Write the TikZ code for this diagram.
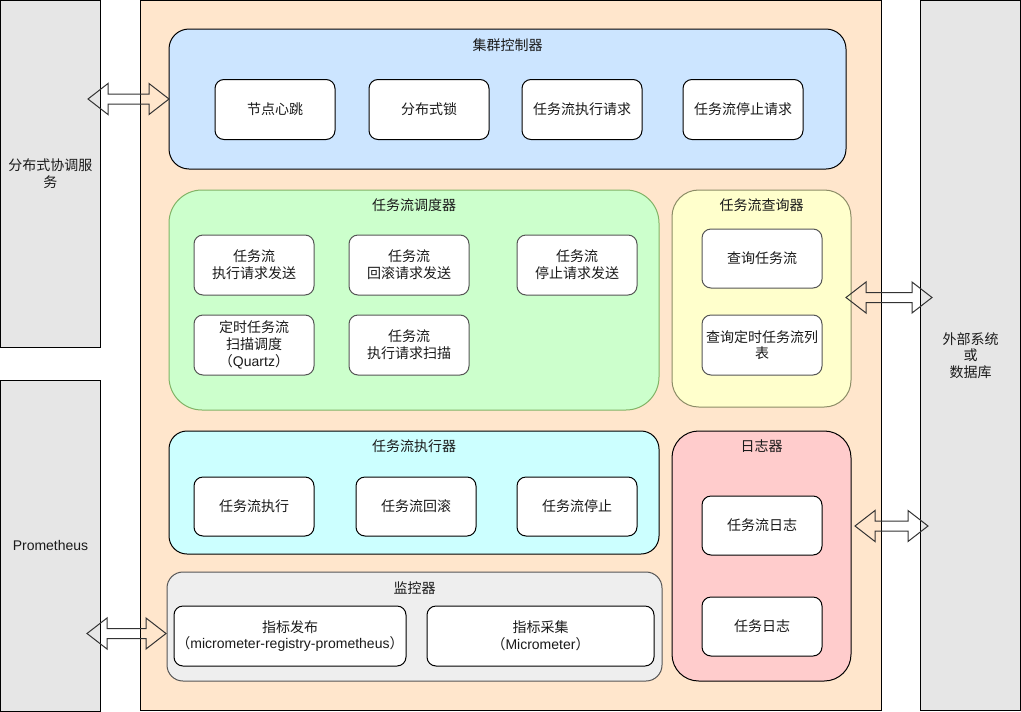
\documentclass[tikz,border=0pt]{standalone}
\usepackage{fontspec}
\setmainfont{Noto Sans CJK SC}
\newfontfamily\lat{Liberation Sans}
\definecolor{panelgray}{HTML}{E6E6E6}
\definecolor{orangebg}{HTML}{FFE6CC}
\definecolor{bluebg}{HTML}{CCE5FF}
\definecolor{greenbg}{HTML}{CCFFCC}
\definecolor{greenline}{HTML}{82B366}
\definecolor{yellowbg}{HTML}{FFFFCC}
\definecolor{yellowline}{HTML}{8C8C66}
\definecolor{cyanbg}{HTML}{CCFFFF}
\definecolor{pinkbg}{HTML}{FFCCCC}
\definecolor{monbg}{HTML}{EEEEEE}
\definecolor{darkline}{HTML}{555555}
\definecolor{txt}{HTML}{1A1A1A}
\newcommand\blockarrow[3]{%
  \draw[barrow] (#1,#3) -- (#1+20,#3-15.5) -- (#1+20,#3-5) -- (#2-20,#3-5) -- (#2-20,#3-15.5) -- (#2,#3)
   -- (#2-20,#3+15.5) -- (#2-20,#3+5) -- (#1+20,#3+5) -- (#1+20,#3+15.5) -- cycle;}
\begin{document}
\begin{tikzpicture}[x=0.75pt,y=-0.75pt,
  every node/.style={font=\fontsize{10.5pt}{12.5pt}\selectfont, align=center, text=txt, inner sep=0pt, outer sep=0pt},
  sz/.style 2 args={minimum width=#1*0.75pt, minimum height=#2*0.75pt},
  panel/.style={draw=black, fill=panelgray, line width=0.75pt},
  cont/.style={draw=black, line width=0.75pt},
  box/.style={draw=black, fill=white, line width=0.75pt, rounded corners=6.75pt, sz={120}{60}},
  gbox/.style={box, draw=darkline},
  title/.style={},
  barrow/.style={draw=black!80, line width=0.75pt, line join=miter}
]
\useasboundingbox (0,0) rectangle (1021,711);
% outer panels
\node[panel, sz={100}{347}] (coord) at (50.5,173.75) {分布式协调服\\务};
\node[panel, sz={100}{331}] (prom) at (50.5,545.5) {\lat Prometheus};
\node[panel, sz={100}{710}] (ext) at (970.5,355.5) {外部系统\\或\\数据库};
\node[cont, fill=orangebg, sz={741}{710}] (main) at (510.5,355.5) {};
% cluster controller
\node[cont, fill=bluebg, rounded corners=15pt, sz={677}{140}] (ctrl) at (507.5,99) {};
\node[title] (ctrlT) at (507.5,45) {集群控制器};
\node[box] (hb) at (275,109.5) {节点心跳};
\node[box] (lock) at (429,109.5) {分布式锁};
\node[box] (req) at (582,109.5) {任务流执行请求};
\node[box] (stopreq) at (743,109.5) {任务流停止请求};
% scheduler
\node[cont, draw=greenline, fill=greenbg, rounded corners=24.75pt, sz={490}{220}] (sched) at (414,300) {};
\node[title] (schedT) at (414,205) {任务流调度器};
\node[gbox] (s1) at (254,265) {任务流\\执行请求发送};
\node[gbox] (s2) at (409,265) {任务流\\回滚请求发送};
\node[gbox] (s3) at (577,265) {任务流\\停止请求发送};
\node[gbox] (s4) at (254,345) {定时任务流\\扫描调度\\（{\lat Quartz}）};
\node[gbox] (s5) at (409,345) {任务流\\执行请求扫描};
% query
\node[cont, draw=yellowline, fill=yellowbg, rounded corners=20pt, sz={179}{217}] (query) at (761.5,298.5) {};
\node[title] (queryT) at (761.5,205) {任务流查询器};
\node[gbox, sz={120}{59}] (q1) at (762,258.5) {查询任务流};
\node[gbox] (q2) at (762,345) {查询定时任务流列\\表};
% executor
\node[cont, fill=cyanbg, rounded corners=13.5pt, sz={490}{123}] (exec) at (414,492.5) {};
\node[title] (execT) at (414,446) {任务流执行器};
\node[box, sz={120}{59}] (e1) at (254,506.5) {任务流执行};
\node[box, sz={120}{59}] (e2) at (416,506.5) {任务流回滚};
\node[box, sz={120}{59}] (e3) at (577,506.5) {任务流停止};
% logger
\node[cont, fill=pinkbg, rounded corners=20pt, sz={179}{250}] (log) at (761.5,556) {};
\node[title] (logT) at (761.5,446) {日志器};
\node[box, sz={120}{59}] (l1) at (762,525.5) {任务流日志};
\node[box, sz={120}{59}] (l2) at (762,626.5) {任务日志};
% monitor
\node[cont, draw=darkline, fill=monbg, rounded corners=12pt, sz={495}{109}] (mon) at (414.5,626.5) {};
\node[title] (monT) at (414.5,588) {监控器};
\node[box, sz={232}{60}] (m1) at (290,636) {指标发布\\（{\lat micrometer-registry-prometheus}）};
\node[box, sz={227}{60}] (m2) at (540.5,636) {指标采集\\（{\lat Micrometer}）};
% block arrows
\blockarrow{88}{169}{99}
\blockarrow{846}{932}{297.5}
\blockarrow{855}{928}{526}
\blockarrow{87}{166}{633.5}
\end{tikzpicture}
\end{document}
